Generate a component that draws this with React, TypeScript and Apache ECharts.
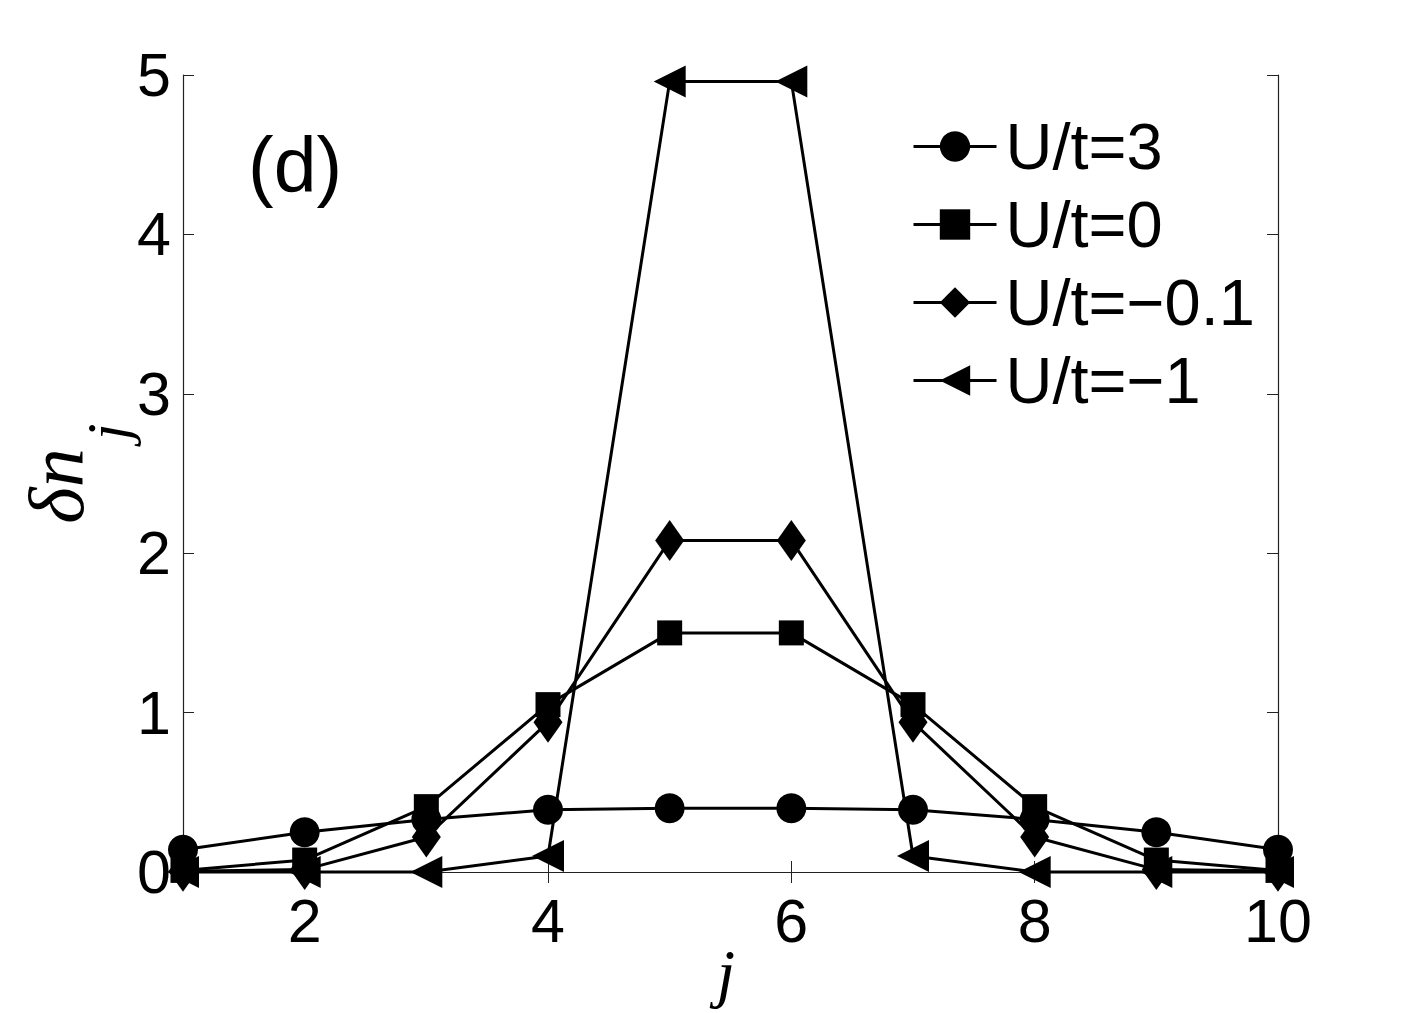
import React, { useEffect, useRef } from "react";
import * as echarts from "echarts";

const sites = [1, 2, 3, 4, 5, 6, 7, 8, 9, 10];
const seriesNames = ["U/t=3", "U/t=0", "U/t=\u22120.1", "U/t=\u22121"];
const valsU3 = [0.14, 0.25, 0.33, 0.39, 0.40, 0.40, 0.39, 0.33, 0.25, 0.14];
const valsU0 = [0.01, 0.075, 0.41, 1.05, 1.5, 1.5, 1.05, 0.41, 0.075, 0.01];
const valsUm01 = [0.005, 0.015, 0.22, 0.94, 2.08, 2.08, 0.94, 0.22, 0.015, 0.005];
const valsUm1 = [0.0, 0.0, 0.0, 0.1, 4.96, 4.96, 0.1, 0.0, 0.0, 0.0];
const xTicks = [2, 4, 6, 8, 10];

const FONT = "Liberation Sans, Arial, Helvetica, sans-serif";
const SERIF = "Liberation Serif, Times New Roman, serif";

export default function App() {
  const ref = useRef<HTMLDivElement>(null);
  useEffect(() => {
    if (!ref.current) return;
    const chart = echarts.init(ref.current, undefined, { renderer: "svg" });
    const mk = (name: string, vals: number[], symbol: string, size: any, rot = 0) => ({
      name,
      type: "line",
      data: sites.map((s, i) => [s, vals[i]]),
      symbol,
      symbolSize: size,
      symbolRotate: rot,
      showAllSymbol: true,
      clip: false,
      lineStyle: { color: "#000", width: 3 },
      itemStyle: { color: "#000", borderWidth: 0 },
      emphasis: { disabled: true },
    });
    const axisCommon = {
      axisLine: { show: true, lineStyle: { color: "#222", width: 1.2 } },
      splitLine: { show: false },
    };
    chart.setOption({
      animation: false,
      backgroundColor: "#fff",
      grid: { left: 183, right: 135, top: 75, bottom: 141, containLabel: false },
      xAxis: [
        {
          type: "value",
          min: 1,
          max: 10,
          position: "bottom",
          ...axisCommon,
          axisTick: { show: true, inside: true, length: 11, customValues: xTicks, lineStyle: { color: "#222" } },
          axisLabel: {
            customValues: xTicks,
            fontSize: 61,
            fontFamily: FONT,
            color: "#000",
            margin: 18,
          },
        },
        {
          type: "value",
          min: 1,
          max: 10,
          position: "top",
          ...axisCommon,
          axisTick: { show: true, inside: true, length: 11, customValues: xTicks, lineStyle: { color: "#222" } },
          axisLabel: { show: false },
        },
      ],
      yAxis: [
        {
          type: "value",
          min: 0,
          max: 5,
          interval: 1,
          position: "left",
          ...axisCommon,
          axisTick: { show: true, inside: true, length: 11, lineStyle: { color: "#222" } },
          axisLabel: {
            fontSize: 61,
            fontFamily: FONT,
            color: "#000",
            margin: 12,
          },
        },
        {
          type: "value",
          min: 0,
          max: 5,
          interval: 1,
          position: "right",
          ...axisCommon,
          axisTick: { show: true, inside: true, length: 11, lineStyle: { color: "#222" } },
          axisLabel: { show: false },
        },
      ],
      legend: {
        orient: "vertical",
        left: 907,
        top: 109,
        itemWidth: 83,
        itemHeight: 38,
        itemGap: 13,
        data: seriesNames,
        lineStyle: { width: 3 },
        textStyle: { fontSize: 65, fontFamily: FONT, color: "#000", padding: [0, 0, 0, 4] },
        selectedMode: false,
      },
      series: [
        mk(seriesNames[0], valsU3, "circle", 30),
        mk(seriesNames[1], valsU0, "rect", 25),
        mk(seriesNames[2], valsUm01, "diamond", [29, 41]),
        mk(seriesNames[3], valsUm1, "triangle", [32, 32], 90),
      ],
      graphic: [
        {
          type: "text",
          left: 248,
          top: 126,
          style: { text: "(d)", fontSize: 77, fontFamily: FONT, fill: "#000" },
        },
        {
          type: "text",
          x: 56,
          y: 486,
          rotation: Math.PI / 2,
          style: {
            text: "\u03b4n",
            fontSize: 78,
            fontStyle: "italic",
            fontFamily: SERIF,
            fill: "#000",
            align: "center",
            verticalAlign: "middle",
          },
        },
        {
          type: "text",
          x: 108,
          y: 432,
          rotation: Math.PI / 2,
          style: {
            text: "j",
            fontSize: 60,
            fontStyle: "italic",
            fontFamily: SERIF,
            fill: "#000",
            align: "center",
            verticalAlign: "middle",
          },
        },
        {
          type: "text",
          x: 726,
          y: 972,
          style: {
            text: "j",
            fontSize: 66,
            fontStyle: "italic",
            fontFamily: SERIF,
            fill: "#000",
            align: "center",
            verticalAlign: "middle",
          },
        },
      ],
    });
    return () => chart.dispose();
  }, []);
  return (
    <div
      ref={ref}
      style={{ position: "absolute", left: 0, top: 0, width: 1413, height: 1013 }}
    />
  );
}
